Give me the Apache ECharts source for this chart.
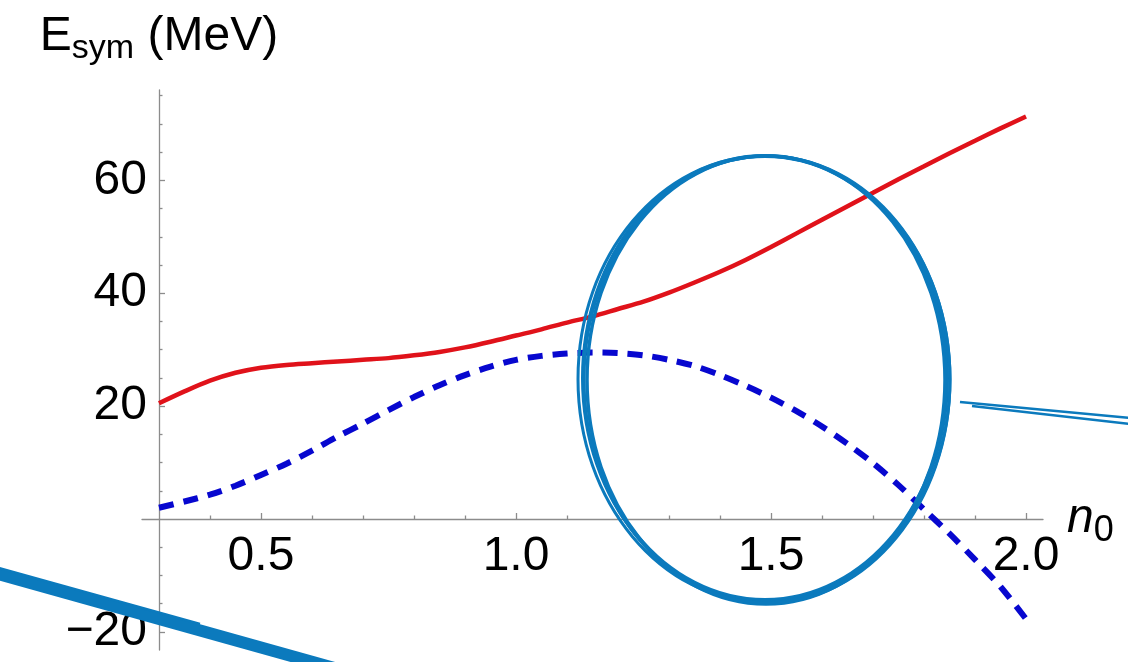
<!DOCTYPE html>
<html>
<head>
<meta charset="utf-8">
<script src="https://cdn.jsdelivr.net/npm/echarts@6/dist/echarts.min.js"></script>
<style>
  html, body { margin: 0; padding: 0; background: #ffffff; }
  #chart { width: 1128px; height: 662px; }
</style>
</head>
<body>
<div id="chart"></div>
<script>
// Density in units of saturation density n0
const densities = [
  0.30, 0.35, 0.40, 0.45, 0.50, 0.55, 0.60, 0.65, 0.70, 0.75,
  0.80, 0.85, 0.90, 0.95, 1.00, 1.05, 1.10, 1.15, 1.20, 1.25,
  1.30, 1.35, 1.40, 1.45, 1.50, 1.55, 1.60, 1.65, 1.70, 1.75,
  1.80, 1.85, 1.90, 1.95, 2.00
];

// Symmetry energy (MeV), solid red curve
const esymSolid = [
  20.5, 22.6, 24.5, 25.9, 26.8, 27.3, 27.6, 27.9, 28.2, 28.5,
  29.0, 29.6, 30.4, 31.4, 32.5, 33.6, 34.8, 35.9, 37.2, 38.5,
  40.1, 41.9, 43.8, 45.9, 48.2, 50.6, 53.0, 55.4, 57.8, 60.2,
  62.5, 64.8, 67.0, 69.2, 71.3
];

// Symmetry energy (MeV), dashed blue curve
const esymDashed = [
  2.0, 3.1, 4.3, 5.9, 7.8, 9.8, 12.1, 14.6, 16.9, 19.3,
  21.6, 23.7, 25.5, 27.0, 28.2, 28.9, 29.3, 29.5, 29.4, 29.0,
  28.2, 27.1, 25.5, 23.6, 21.5, 19.1, 16.4, 13.3, 9.9, 6.0,
  1.7, -2.6, -7.2, -12.0, -17.7
];

// Tick positions
const xMajorTicks = [0.5, 1.0, 1.5, 2.0];
const xMinorTicks = [0.4, 0.6, 0.7, 0.8, 0.9, 1.1, 1.2, 1.3, 1.4, 1.6, 1.7, 1.8, 1.9];
const yMajorTicksUpper = [20, 40, 60];
const yMinorTicksUpper = [5, 10, 15, 25, 30, 35, 45, 50, 55, 65, 70, 75];
const yMajorTicksLower = [-20];
const yMinorTicksLower = [-15, -10, -5];

const FONT = '"Liberation Sans", Arial, Helvetica, sans-serif';
const AXIS_GRAY = '#8c8c8c';
const INK = '#0b7abd';
const X_MIN = 0.2667, X_MAX = 2.0333;
const Y_MIN = -23.2, Y_MAX = 76;

function pairs(xs, ys) { return xs.map((x, i) => [x, ys[i]]); }
function yFmt(v) { return v < 0 ? '\u2212' + Math.abs(v) : String(v); }

const axisLineStyle = { color: AXIS_GRAY, width: 1.3 };
const tickLabel = { fontSize: 48, fontFamily: FONT, color: '#000' };

// Upper panel holds positive energies and the n0 axis along E = 0;
// the lower panel only continues the energy axis below zero.
const upper = { left: 142, right: 85, top: 90, height: 429, outerBoundsMode: 'none', containLabel: false };
const lower = { left: 142, right: 85, top: 519, height: 131, outerBoundsMode: 'none', containLabel: false };

function yAxisPart(gridIndex, min, max, major, minor, extra) {
  return [
    Object.assign({
      type: 'value', gridIndex, min, max, position: 'left', offset: -17,
      axisLine: { show: true, onZero: false, lineStyle: axisLineStyle },
      axisTick: { show: true, inside: true, length: 6, customValues: major, lineStyle: axisLineStyle },
      axisLabel: Object.assign({ customValues: major, formatter: yFmt, margin: 12 }, tickLabel),
      splitLine: { show: false }
    }, extra || {}),
    {
      type: 'value', gridIndex, min, max, position: 'left', offset: -17,
      axisLine: { show: false, onZero: false },
      axisTick: { show: true, inside: true, length: 3.5, customValues: minor, lineStyle: axisLineStyle },
      axisLabel: { show: false },
      splitLine: { show: false }
    }
  ];
}

const chart = echarts.init(document.getElementById('chart'), null, { renderer: 'canvas' });

chart.setOption({
  animation: false,
  backgroundColor: '#ffffff',
  grid: [upper, lower],
  xAxis: [
    {
      type: 'value', gridIndex: 0, min: X_MIN, max: X_MAX, position: 'bottom',
      name: '{n|n}{s|0}',
      nameLocation: 'end',
      nameGap: 24,
      nameTextStyle: {
        color: '#000',
        rich: {
          n: { fontSize: 48, fontStyle: 'italic', fontFamily: FONT, color: '#000' },
          s: { fontSize: 36, fontFamily: FONT, color: '#000', padding: [24, 0, 0, 0] }
        }
      },
      axisLine: { show: true, onZero: false, lineStyle: axisLineStyle },
      axisTick: { show: true, inside: true, length: 6, customValues: xMajorTicks, lineStyle: axisLineStyle },
      axisLabel: Object.assign({ customValues: xMajorTicks, formatter: v => v.toFixed(1), margin: 14 }, tickLabel),
      splitLine: { show: false }
    },
    {
      type: 'value', gridIndex: 0, min: X_MIN, max: X_MAX, position: 'bottom',
      axisLine: { show: false, onZero: false },
      axisTick: { show: true, inside: true, length: 3.5, customValues: xMinorTicks, lineStyle: axisLineStyle },
      axisLabel: { show: false },
      splitLine: { show: false }
    },
    { type: 'value', gridIndex: 1, min: X_MIN, max: X_MAX, show: false }
  ],
  yAxis: [
    ...yAxisPart(0, 0, Y_MAX, yMajorTicksUpper, yMinorTicksUpper, {
      name: '{e|E}{s|sym}{m| (MeV)}',
      nameLocation: 'end',
      nameGap: 24,
      nameTextStyle: {
        color: '#000',
        align: 'center',
        rich: {
          e: { fontSize: 48, fontFamily: FONT, color: '#000' },
          s: { fontSize: 34, fontFamily: FONT, color: '#000', padding: [24, 0, 0, 0] },
          m: { fontSize: 48, fontFamily: FONT, color: '#000' }
        }
      }
    }),
    ...yAxisPart(1, Y_MIN, 0, yMajorTicksLower, yMinorTicksLower)
  ],
  series: [
    {
      name: 'solid',
      type: 'line',
      xAxisIndex: 0, yAxisIndex: 0,
      data: pairs(densities, esymSolid),
      showSymbol: false,
      smooth: 0.3,
      clip: false,
      lineStyle: { color: '#e0121a', width: 4.5 },
      z: 3
    },
    {
      name: 'dashed',
      type: 'line',
      xAxisIndex: 0, yAxisIndex: 0,
      data: pairs(densities, esymDashed),
      showSymbol: false,
      smooth: 0.3,
      clip: false,
      lineStyle: { color: '#0707cf', width: 6, type: [15, 10], cap: 'butt' },
      z: 3
    }
  ],
  // hand-drawn highlight ring and pen strokes on top of the plot
  graphic: [
    { type: 'ellipse', z: 100, silent: true, shape: { cx: 765, cy: 378, rx: 182, ry: 222 }, style: { fill: null, stroke: INK, lineWidth: 4 } },
    { type: 'ellipse', z: 100, silent: true, shape: { cx: 766, cy: 380, rx: 179, ry: 224 }, style: { fill: null, stroke: INK, lineWidth: 3.5 } },
    { type: 'ellipse', z: 100, silent: true, shape: { cx: 764, cy: 379, rx: 186, ry: 223 }, style: { fill: null, stroke: INK, lineWidth: 3 } },
    { type: 'ellipse', z: 100, silent: true, shape: { cx: 767, cy: 379.5, rx: 183, ry: 223.5 }, style: { fill: null, stroke: INK, lineWidth: 3 } },
    { type: 'line', z: 100, silent: true, shape: { x1: -5, y1: 573, x2: 345, y2: 671 }, style: { stroke: INK, lineWidth: 12 } },
    { type: 'line', z: 100, silent: true, shape: { x1: -5, y1: 567, x2: 200, y2: 624 }, style: { stroke: INK, lineWidth: 2.5 } },
    { type: 'line', z: 100, silent: true, shape: { x1: 960, y1: 402, x2: 1130, y2: 418 }, style: { stroke: INK, lineWidth: 2.5 } },
    { type: 'line', z: 100, silent: true, shape: { x1: 972, y1: 406, x2: 1130, y2: 424 }, style: { stroke: INK, lineWidth: 2.5 } }
  ]
});
</script>
</body>
</html>
